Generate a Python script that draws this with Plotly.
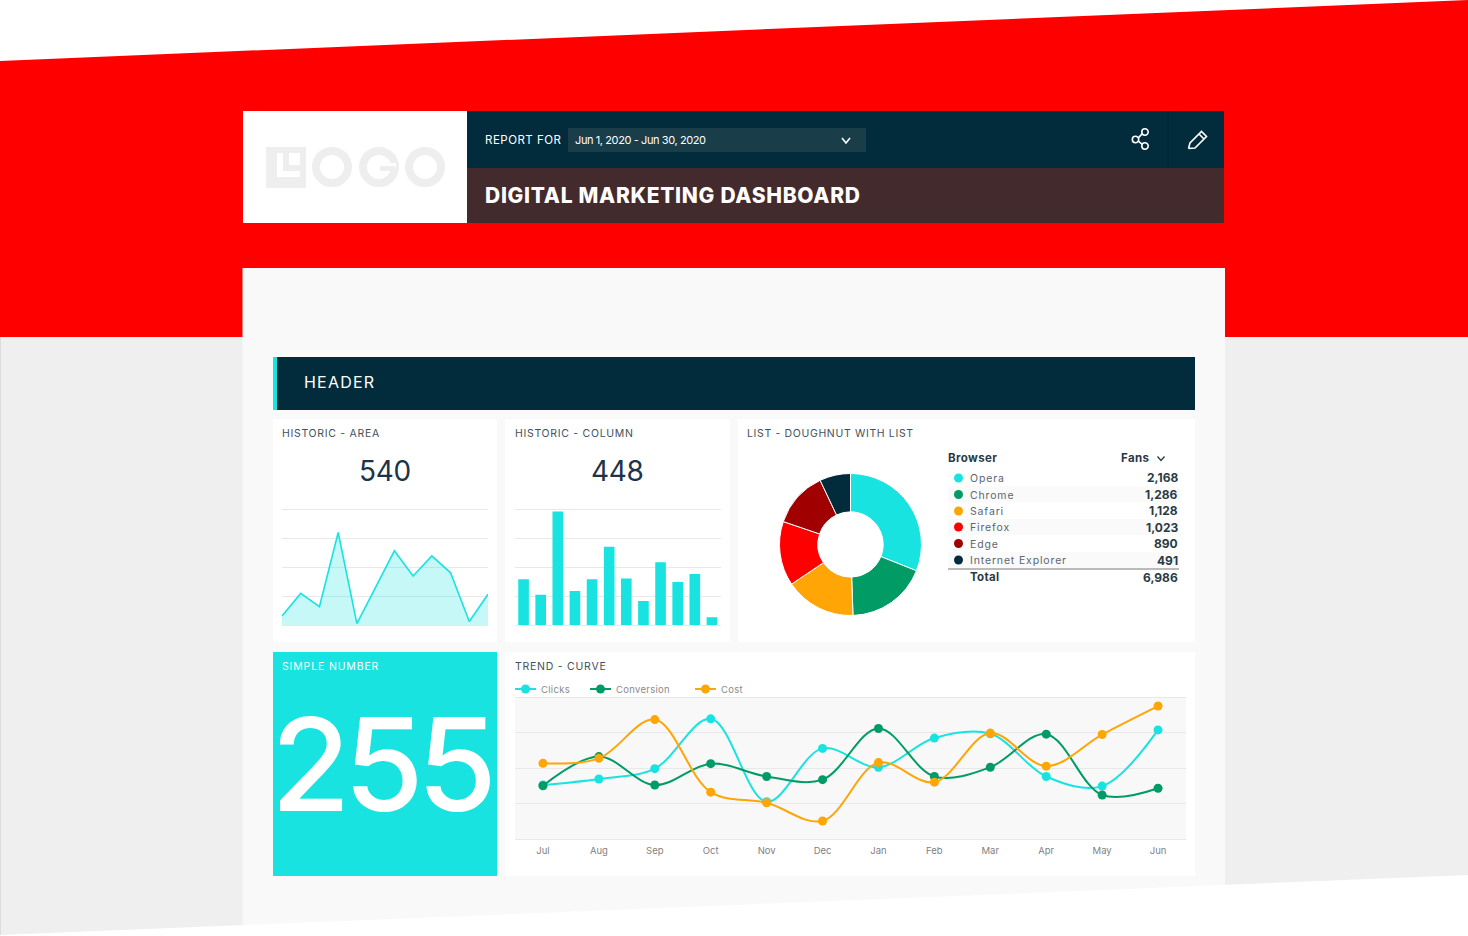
import plotly.graph_objects as go

W, H = 1468, 936
CYAN, GREEN, ORANGE, RED, DARKRED, NAVY = "#19e3e0", "#019b65", "#ffa505", "#ff0000", "#a00000", "#022c3c"
FONT = "Inter"

months = ["Jul", "Aug", "Sep", "Oct", "Nov", "Dec", "Jan", "Feb", "Mar", "Apr", "May", "Jun"]
area_values = [31, 109, 63, 319, 5, 130, 256, 169, 238, 180, 12, 106]
column_values = [158, 104, 391, 117, 158, 270, 160, 83, 216, 148, 176, 27]
browsers = ["Opera", "Chrome", "Safari", "Firefox", "Edge", "Internet Explorer"]
fans = [2168, 1286, 1128, 1023, 890, 491]
browser_colors = [CYAN, GREEN, ORANGE, RED, DARKRED, NAVY]
clicks = [153, 170, 199, 339, 106, 256, 203, 285, 297, 177, 150, 308]
conversion = [151, 233, 153, 213, 177, 168, 312, 177, 203, 296, 125, 144]
cost = [214, 228, 337, 133, 103, 52, 216, 161, 299, 206, 295, 375]


def fx(x):
    return x / W


def fy(y):
    return 1 - y / H


shapes = []
annotations = []


def rect(x0, y0, x1, y1, color):
    shapes.append(dict(type="rect", xref="paper", yref="paper", layer="below",
                       x0=fx(x0), x1=fx(x1), y0=fy(y0), y1=fy(y1),
                       fillcolor=color, line=dict(width=0)))


def poly(points, fill=None, line=None, width=1.5, closed=True):
    d = "M " + " L ".join(f"{fx(x):.6f},{fy(y):.6f}" for x, y in points) + (" Z" if closed else "")
    shapes.append(dict(type="path", xref="paper", yref="paper", layer="below", path=d,
                       fillcolor=fill if fill else "rgba(0,0,0,0)",
                       line=dict(color=line if line else "rgba(0,0,0,0)", width=width if line else 0)))


def circle(cx, cy, r, fill=None, line=None, width=1.5):
    shapes.append(dict(type="circle", xref="paper", yref="paper", layer="below",
                       x0=fx(cx - r), x1=fx(cx + r), y0=fy(cy - r), y1=fy(cy + r),
                       fillcolor=fill if fill else "rgba(0,0,0,0)",
                       line=dict(color=line if line else "rgba(0,0,0,0)", width=width if line else 0)))


def text(x, y, s, size, color, anchor="left", weight=400, ls=0.0, family=FONT):
    s2 = f'<span style="letter-spacing:{ls}px">{s}</span>' if ls else s
    if anchor == "left":
        x -= 1
    annotations.append(dict(xref="paper", yref="paper", x=fx(x), y=fy(y), text=s2, showarrow=False,
                            xanchor=anchor, yanchor="middle", borderpad=0,
                            font=dict(family=family, size=size, color=color, weight=weight)))


# page background
rect(0, 337, W, H, "#efefef")
rect(0, 337, 1, H, "#dcdcdc")
poly([(0, 61), (W, 0), (W, 337), (0, 337)], fill=RED)
rect(242.5, 268, 1225, H, "#f9f9f9")
poly([(0, 935), (W, 875), (W, H), (0, H)], fill="#ffffff")

# report header
rect(243, 111, 467, 223, "#ffffff")
rect(467, 111, 1224, 168, NAVY)
rect(467, 168, 1224, 223, "#432a2c")
rect(568, 128, 866, 152, "#1a3d4a")
rect(1167.5, 111, 1168.5, 168, "#01222f")
text(485, 139.5, "REPORT FOR", 11.5, "#ffffff", ls=0.5)
text(574.5, 139.5, "Jun 1, 2020 - Jun 30, 2020", 11, "#ffffff", ls=-0.4)
text(485, 195, "DIGITAL MARKETING DASHBOARD", 21, "#ffffff", weight=800, ls=0.7)
poly([(842, 138), (846, 143), (850, 138)], line="#ffffff", width=1.6, closed=False)

# logo
LG = "#eeeeee"
rect(266, 147, 306, 188, LG)
poly([(277, 153), (283, 153), (283, 171), (300, 171), (300, 177), (277, 177)], fill="#ffffff")
rect(289, 153, 300, 165, "#ffffff")
for cx in (332, 379, 425):
    circle(cx, 167, 16, line=LG, width=8)
rect(380, 163, 396, 168, "#ffffff")
rect(380, 166, 395, 171, LG)

# share icon
for cx, cy in [(1145, 132), (1135.5, 139.5), (1145, 146)]:
    circle(cx, cy, 3.2, line="#ffffff", width=1.6)
poly([(1142.3, 133.6), (1138.3, 137.9)], line="#ffffff", width=1.6, closed=False)
poly([(1138.3, 141.2), (1142.3, 144.4)], line="#ffffff", width=1.6, closed=False)

# pencil icon
poly([(1188.5, 148.5), (1190, 143), (1201.5, 131.5), (1206.5, 136.5), (1195, 148), (1188.5, 148.5)],
     line="#ffffff", width=1.6, closed=False)
poly([(1199, 134), (1204, 139)], line="#ffffff", width=1.6, closed=False)

# header band
rect(273, 357, 1195, 410, NAVY)
rect(273, 357, 277, 410, CYAN)
text(304, 382, "HEADER", 16, "#ffffff", ls=1.2)

# cards
rect(273, 419, 497, 642, "#ffffff")
rect(505, 419, 730, 642, "#ffffff")
rect(738, 419, 1195, 642, "#ffffff")
rect(273, 652, 497, 876, CYAN)
rect(505, 652, 1195, 876, "#ffffff")
rect(515, 697, 1186, 839, "#f8f8f8")

LABEL = "#44505c"
text(282, 433.5, "HISTORIC - AREA", 10.5, LABEL, ls=0.7)
text(515, 433.5, "HISTORIC - COLUMN", 10.5, LABEL, ls=0.7)
text(747, 433.5, "LIST - DOUGHNUT WITH LIST", 10.5, LABEL, ls=0.65)
text(515, 666, "TREND - CURVE", 10.5, LABEL, ls=0.75)
text(282, 666, "SIMPLE NUMBER", 10.5, "#ffffff", ls=0.85)
text(384.5, 471, "540", 28, "#1d3349", anchor="center", ls=-0.3)
text(617.5, 471, "448", 28, "#1d3349", anchor="center", ls=-0.3)
text(380, 764, "255", 129, "#ffffff", anchor="center", ls=-6.5, weight=500)

# list table
text(948, 457.5, "Browser", 11.5, "#2a3a44", weight=700, ls=0.4)
text(1151, 457.5, "Fans", 11.5, "#2a3a44", anchor="right", weight=700, ls=0.4)
poly([(1157.5, 456.5), (1161, 460.5), (1164.5, 456.5)], line="#2a3a44", width=1.3, closed=False)
row_y = [478, 494.5, 511, 527, 543.5, 560]
for i, (b, v, c, y) in enumerate(zip(browsers, fans, browser_colors, row_y)):
    if i % 2 == 1:
        rect(948, y - 8, 1180, y + 8, "#fafafa")
    circle(958.5, y, 4.5, fill=c)
    text(970, y + 0.5, b, 10.5, "#5b6670", ls=0.85)
    text(1179, y, f"{v:,}", 12, "#2a3a44", anchor="right", weight=700)
rect(948, 568.5, 1179, 569.5, "#777777")
text(970, 577, "Total", 11.5, "#2a3a44", weight=700, ls=0.3)
text(1179, 577, f"{sum(fans):,}", 12, "#2a3a44", anchor="right", weight=700)

fig = go.Figure()
fig.add_trace(go.Scatter(x=months, y=area_values, mode="lines", fill="tozeroy",
                         fillcolor="rgba(25,227,224,0.25)", line=dict(color=CYAN, width=1.6),
                         showlegend=False, xaxis="x", yaxis="y"))
fig.add_trace(go.Bar(x=months, y=column_values, marker=dict(color=CYAN, line=dict(width=0)),
                     showlegend=False, xaxis="x2", yaxis="y2"))
fig.add_trace(go.Pie(labels=browsers, values=fans, hole=0.46, sort=False, direction="clockwise",
                     rotation=0, textinfo="none", showlegend=False,
                     marker=dict(colors=browser_colors, line=dict(color="#ffffff", width=1)),
                     domain=dict(x=[fx(779.5), fx(921.5)], y=[fy(615.5), fy(473.5)])))
series = [("Clicks", clicks, CYAN), ("Conversion", conversion, GREEN), ("Cost", cost, ORANGE)]
for name, vals, col in series:
    fig.add_trace(go.Scatter(x=months, y=vals, mode="lines+markers", name=name, showlegend=False,
                             line=dict(color=col, width=2, shape="spline", smoothing=1.0),
                             marker=dict(color=col, size=9), xaxis="x3", yaxis="y3"))

# legend row of the trend chart
legend_x = [515, 590, 695]
for (name, vals, col), lx in zip(series, legend_x):
    rect(lx, 688, lx + 21, 690, col)
    circle(lx + 10.5, 689, 4.5, fill=col)
    text(lx + 26, 689, name, 9.5, "#8a8a8a", ls=0.3)

GRID = "#e8e8e8"
yax = dict(range=[-10, 410], dtick=100, showticklabels=False, showgrid=True, gridcolor=GRID, gridwidth=1,
           zeroline=False, showline=False, ticks="")
xax = dict(type="category", categoryorder="array", categoryarray=months, showgrid=False, zeroline=False,
           showline=False, ticks="")

fig.update_layout(
    width=W, height=H, margin=dict(l=0, r=0, t=0, b=0, autoexpand=False),
    paper_bgcolor="#ffffff", plot_bgcolor="rgba(0,0,0,0)",
    font=dict(family=FONT), bargap=0.38, showlegend=False,
    xaxis=dict(xax, domain=[fx(282), fx(488)], range=[0, 11], showticklabels=False, anchor="y"),
    yaxis=dict(yax, domain=[fy(627.9), fy(506.1)], anchor="x"),
    xaxis2=dict(xax, domain=[fx(515), fx(720.5)], range=[-0.5, 11.5], showticklabels=False, anchor="y2"),
    yaxis2=dict(yax, domain=[fy(627.9), fy(506.1)], anchor="x2"),
    xaxis3=dict(xax, domain=[fx(515), fx(1186)], range=[-0.5, 11.5], showticklabels=True, anchor="y3",
                ticklabelstandoff=0, tickfont=dict(family=FONT, size=9.5, color="#7f7f7f")),
    yaxis3=dict(yax, domain=[fy(843), fy(693.6)], anchor="x3"),
    shapes=shapes, annotations=annotations, hovermode=False,
)
fig.write_html("out.html", config=dict(displayModeBar=False),
               post_script="document.body.style.margin='0';document.body.style.overflow='hidden';")
